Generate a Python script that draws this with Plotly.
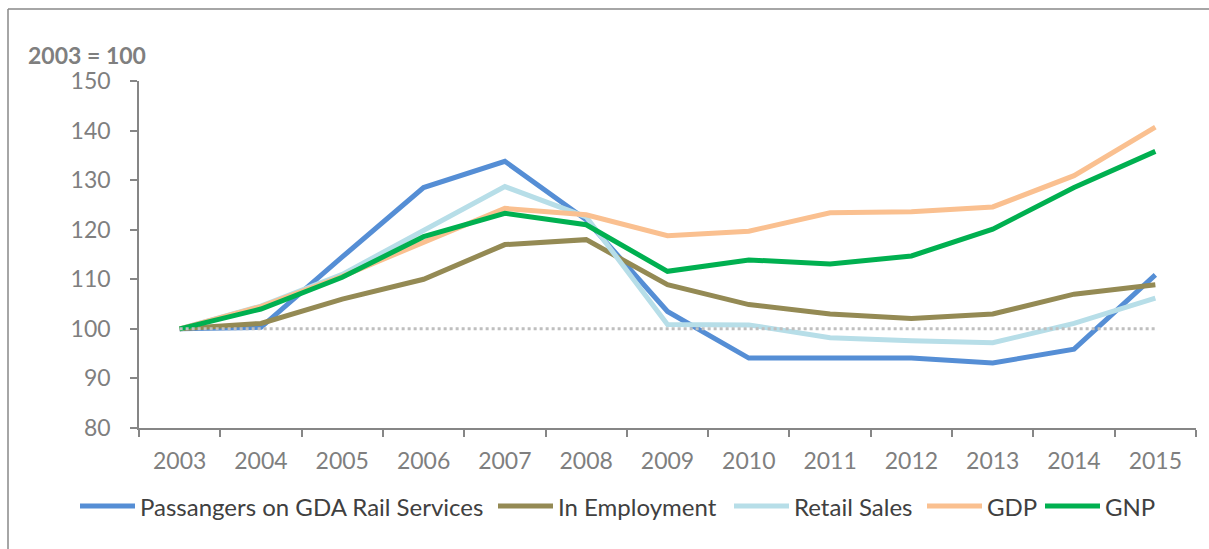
import plotly.graph_objects as go

years = ["2003", "2004", "2005", "2006", "2007", "2008", "2009",
         "2010", "2011", "2012", "2013", "2014", "2015"]

passengers = [100, 100.3, 114.5, 128.5, 133.8, 122.0, 103.5, 94.1, 94.1, 94.1, 93.1, 95.9, 110.9]
employment = [100, 101.1, 106.0, 110.0, 117.0, 118.0, 108.9, 104.9, 103.0, 102.1, 103.0, 107.0, 108.9]
retail = [100, 104.6, 111.0, 119.9, 128.7, 122.6, 100.9, 100.8, 98.2, 97.6, 97.2, 101.1, 106.2]
gdp = [100, 104.5, 110.6, 117.4, 124.3, 123.0, 118.8, 119.7, 123.4, 123.6, 124.6, 130.9, 140.7]
gnp = [100, 104.0, 110.4, 118.6, 123.3, 121.0, 111.6, 113.9, 113.1, 114.7, 120.1, 128.5, 135.8]
baseline = [100] * len(years)

series_names = ["Passangers on GDA Rail Services", "In Employment", "Retail Sales", "GDP", "GNP"]
series_values = [passengers, employment, retail, gdp, gnp]
series_colors = ["#558ED5", "#948A54", "#B7DEE8", "#FAC090", "#00B050"]

FONT = "Lato"
AXIS_GREY = "#868686"
TICK_GREY = "#7F7F7F"

# plot area in pixels
W, H = 1209, 549
L, R, T, B = 139, 13, 81, 121
PW, PH = W - L - R, H - T - B


def px_x(x):
    return (x - L) / PW


def px_y(y):
    return (H - B - y) / PH


fig = go.Figure()
for name, vals, color in zip(series_names, series_values, series_colors):
    fig.add_trace(go.Scatter(
        x=years, y=vals, name=name, mode="lines",
        line=dict(color=color, width=5),
    ))

fig.add_trace(go.Scatter(
    x=years, y=baseline, mode="lines", showlegend=False, hoverinfo="skip",
    line=dict(color="#BFBFBF", width=3, dash="dot"),
))

# legend row along the bottom: a swatch line followed by its label
legend_starts = [80, 498, 734, 927, 1045]
swatch_len = 55
legend_y = 506
shapes = []
annotations = []
for name, color, x0 in zip(series_names, series_colors, legend_starts):
    shapes.append(dict(
        type="line", xref="paper", yref="paper",
        x0=px_x(x0), x1=px_x(x0 + swatch_len), y0=px_y(legend_y), y1=px_y(legend_y),
        line=dict(color=color, width=5),
    ))
    annotations.append(dict(
        text=name, xref="paper", yref="paper",
        x=px_x(x0 + swatch_len + 3), y=px_y(legend_y),
        xanchor="left", yanchor="middle", showarrow=False,
        font=dict(family=FONT, size=24, color="#404040"),
    ))

# index base note above the value axis
annotations.append(dict(
    text="<b>2003 = 100</b>", xref="paper", yref="paper",
    x=px_x(26), y=px_y(55),
    xanchor="left", yanchor="middle", showarrow=False,
    font=dict(family=FONT, size=23, color=TICK_GREY),
))

# chart frame (top and left edges)
shapes += [
    dict(type="line", xref="paper", yref="paper",
         x0=px_x(8), x1=px_x(1230), y0=px_y(9), y1=px_y(9),
         line=dict(color="#898989", width=1.5)),
    dict(type="line", xref="paper", yref="paper",
         x0=px_x(8), x1=px_x(8), y0=px_y(9), y1=px_y(570),
         line=dict(color="#898989", width=1.5)),
]

fig.update_layout(
    width=W, height=H,
    margin=dict(l=L, r=R, t=T, b=B),
    paper_bgcolor="white", plot_bgcolor="white",
    font=dict(family=FONT, size=22, color=TICK_GREY),
    showlegend=False,
    xaxis=dict(
        type="category", range=[-0.5, 12.5],
        showline=True, linecolor=AXIS_GREY, linewidth=1.5,
        ticks="outside", tickson="boundaries", ticklen=7,
        tickcolor=AXIS_GREY, tickwidth=1.5,
        showgrid=False, zeroline=False,
        tickfont=dict(family=FONT, size=23, color=TICK_GREY),
        ticklabelstandoff=12,
    ),
    yaxis=dict(
        range=[80, 150], dtick=10,
        showline=True, linecolor=AXIS_GREY, linewidth=1.5,
        ticks="outside", ticklen=7, tickcolor=AXIS_GREY, tickwidth=1.5,
        showgrid=False, zeroline=False,
        tickfont=dict(family=FONT, size=23, color=TICK_GREY),
        ticklabelstandoff=15,
    ),
    annotations=annotations,
    shapes=shapes,
)

fig.write_html("out.html")
